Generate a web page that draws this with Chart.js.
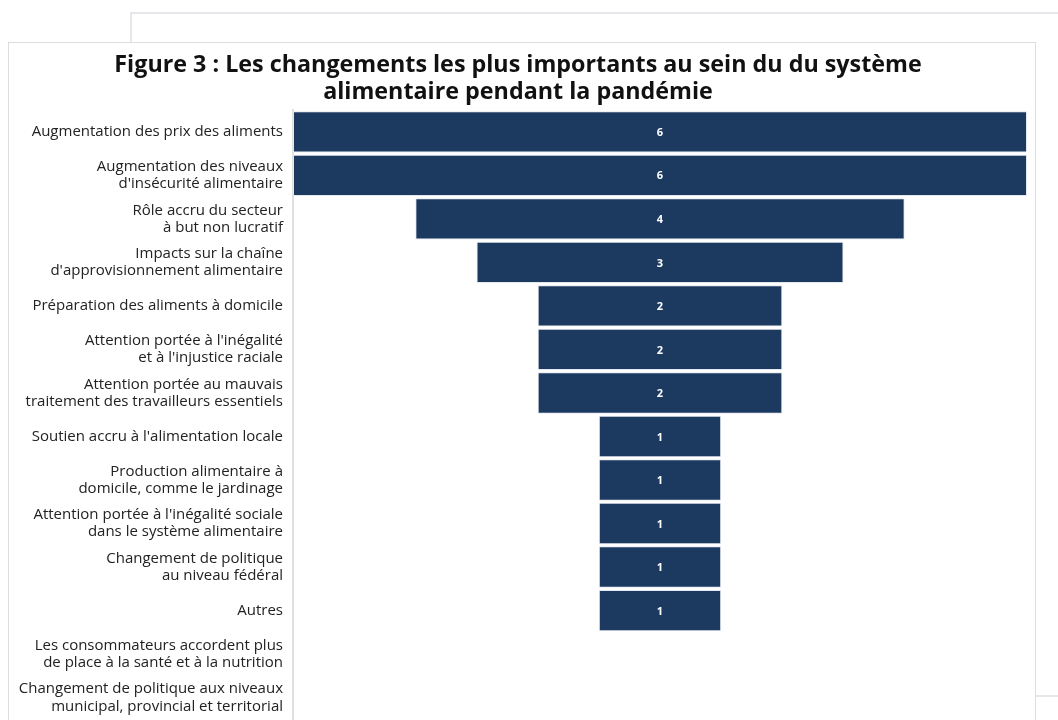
<!DOCTYPE html>
<html lang="fr">
<head>
<meta charset="utf-8">
<title>Figure 3</title>
<script src="https://cdn.jsdelivr.net/npm/chart.js@4.4.1/dist/chart.umd.min.js"></script>
<style>
  body { margin: 0; background: #fff; overflow: hidden; }
  .back {
    position: absolute; left: 130px; top: 12px;
    width: 1000px; height: 681px;
    border: 2px solid #e6e7ea;
  }
  .card {
    position: absolute; left: 8px; top: 42px;
    width: 1026px; height: 720px;
    border: 1px solid #dcdde0; background: #fff;
  }
  #funnel { display: block; }
</style>
</head>
<body>
<div class="back"></div>
<div class="card">
  <canvas id="funnel" width="1026" height="695"></canvas>
</div>
<script>
const categories = [
  'Augmentation des prix des aliments',
  ['Augmentation des niveaux', "d'insécurité alimentaire"],
  ['Rôle accru du secteur', 'à but non lucratif'],
  ['Impacts sur la chaîne', "d'approvisionnement alimentaire"],
  'Préparation des aliments à domicile',
  ["Attention portée à l'inégalité", "et à l'injustice raciale"],
  ['Attention portée au mauvais', 'traitement des travailleurs essentiels'],
  "Soutien accru à l'alimentation locale",
  ['Production alimentaire à', 'domicile, comme le jardinage'],
  ["Attention portée à l'inégalité sociale", 'dans le système alimentaire'],
  ['Changement de politique', 'au niveau fédéral'],
  'Autres',
  ['Les consommateurs accordent plus', 'de place à la santé et à la nutrition'],
  ['Changement de politique aux niveaux', 'municipal, provincial et territorial']
];
const counts = [6, 6, 4, 3, 2, 2, 2, 1, 1, 1, 1, 1, 0, 0];
const titleLines = [
  'Figure 3 : Les changements les plus importants au sein du du système',
  'alimentaire pendant la pandémie'
];

const navy = '#1c3a60';
const font = "'Open Sans', 'DejaVu Sans', sans-serif";

// each bar is centred on zero so the stack reads like a funnel
const spans = counts.map(v => [-v / 2, v / 2]);

// write the count in the middle of every non-empty bar
const valueLabels = {
  id: 'valueLabels',
  afterDatasetsDraw(chart) {
    const ctx = chart.ctx;
    const meta = chart.getDatasetMeta(0);
    ctx.save();
    ctx.fillStyle = '#ffffff';
    ctx.font = "bold 11px " + font;
    ctx.textAlign = 'center';
    ctx.textBaseline = 'middle';
    meta.data.forEach((bar, i) => {
      if (!counts[i]) return;
      const x = chart.scales.x.getPixelForValue(0);
      ctx.fillText(String(counts[i]), x, bar.y + 1);
    });
    ctx.restore();
  }
};

const ctx = document.getElementById('funnel').getContext('2d');
new Chart(ctx, {
  type: 'bar',
  data: {
    labels: categories,
    datasets: [{
      data: spans,
      backgroundColor: navy,
      borderColor: '#e3e7ee',
      borderWidth: 1,
      borderSkipped: false,
      barPercentage: 0.95,
      categoryPercentage: 1
    }]
  },
  options: {
    indexAxis: 'y',
    responsive: false,
    animation: false,
    layout: { padding: { left: 0, right: 8, bottom: 0 } },
    plugins: {
      legend: { display: false },
      tooltip: { enabled: false },
      title: {
        display: true,
        text: titleLines,
        color: '#111111',
        font: { family: font, size: 23.3, weight: 'bold', lineHeight: 1.16 },
        padding: { top: 9, bottom: 4 }
      }
    },
    scales: {
      x: {
        display: false,
        min: -3,
        max: 3
      },
      y: {
        grid: { display: false, drawTicks: false },
        border: { display: true, color: '#e0e0e0', width: 2 },
        ticks: {
          color: '#222222',
          font: { family: font, size: 15, lineHeight: 1.15 },
          padding: 10,
          autoSkip: false
        },
        afterFit(scale) { scale.width = 284; }
      }
    }
  },
  plugins: [valueLabels]
});
</script>
</body>
</html>
